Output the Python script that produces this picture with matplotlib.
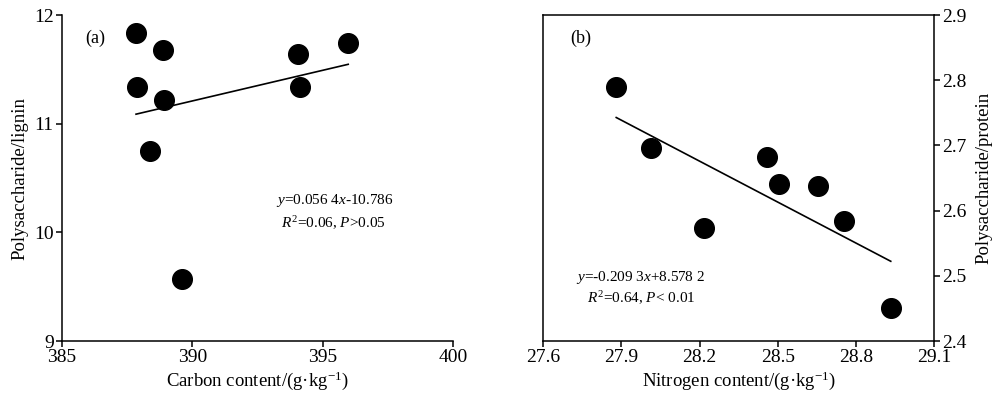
import matplotlib
matplotlib.use("Agg")
from matplotlib import pyplot as plt
import numpy as np

plt.rcParams['font.family'] = ['Liberation Serif', 'DejaVu Serif']
plt.rcParams['mathtext.fontset'] = 'custom'
plt.rcParams['mathtext.rm'] = 'Liberation Serif'
plt.rcParams['mathtext.it'] = 'Liberation Serif:italic'

# panel (a): carbon content vs polysaccharide/lignin
carbon = [387.84, 388.89, 387.88, 388.92, 388.36, 389.62, 394.04, 394.14, 395.98]
ps_lignin = [11.84, 11.68, 11.34, 11.22, 10.75, 9.57, 11.64, 11.34, 11.74]
fit_a = [0.0564, -10.786]

# panel (b): nitrogen content vs polysaccharide/protein
nitrogen = [27.88, 28.012, 28.217, 28.458, 28.504, 28.656, 28.756, 28.934]
ps_protein = [2.79, 2.696, 2.574, 2.683, 2.641, 2.638, 2.584, 2.450]
fit_b = [-0.2093, 8.5782]

fig = plt.figure(figsize=(10, 3.95), dpi=100)

tick_fs = 14
lab_fs = 13.5
ann_fs = 11

# left panel
ax1 = fig.add_axes([0.062, 0.1367, 0.391, 0.825])
ax1.scatter(carbon, ps_lignin, s=200, color='black', zorder=3)
xa = np.array([min(carbon), max(carbon)])
ax1.plot(xa, np.polyval(fit_a, xa), color='black', lw=1.2)
ax1.set_xlim(385, 400)
ax1.set_ylim(9, 12)
ax1.set_xticks([385, 390, 395, 400])
ax1.set_yticks([9, 10, 11, 12])
ax1.spines['top'].set_visible(False)
ax1.spines['right'].set_visible(False)
ax1.set_xlabel('Carbon content/(g·kg$^{-1}$)', fontsize=lab_fs, labelpad=2)
ax1.set_ylabel('Polysaccharide/lignin', fontsize=lab_fs, labelpad=4)
ax1.text(0.06, 0.93, '(a)', transform=ax1.transAxes, fontsize=13, va='center')
ax1.text(0.698, 0.432, '$y$=0.056 4$x$-10.786', transform=ax1.transAxes,
         fontsize=ann_fs, ha='center', va='center')
ax1.text(0.695, 0.362, '$R^2$=0.06, $P$>0.05', transform=ax1.transAxes,
         fontsize=ann_fs, ha='center', va='center')

# right panel
ax2 = fig.add_axes([0.5433, 0.1367, 0.3907, 0.825])
ax2.scatter(nitrogen, ps_protein, s=200, color='black', zorder=3)
xb = np.array([min(nitrogen), max(nitrogen)])
ax2.plot(xb, np.polyval(fit_b, xb), color='black', lw=1.2)
ax2.set_xlim(27.6, 29.1)
ax2.set_ylim(2.4, 2.9)
ax2.set_xticks([27.6, 27.9, 28.2, 28.5, 28.8, 29.1])
ax2.set_yticks([2.4, 2.5, 2.6, 2.7, 2.8, 2.9])
ax2.yaxis.tick_right()
ax2.yaxis.set_label_position('right')
ax2.set_xlabel('Nitrogen content/(g·kg$^{-1}$)', fontsize=lab_fs, labelpad=2)
ax2.set_ylabel('Polysaccharide/protein', fontsize=lab_fs, labelpad=6)
ax2.text(0.07, 0.93, '(b)', transform=ax2.transAxes, fontsize=13, va='center')
ax2.text(0.248, 0.196, '$y$=-0.209 3$x$+8.578 2', transform=ax2.transAxes,
         fontsize=ann_fs, ha='center', va='center')
ax2.text(0.25, 0.132, '$R^2$=0.64, $P$< 0.01', transform=ax2.transAxes,
         fontsize=ann_fs, ha='center', va='center')

for ax in (ax1, ax2):
    for sp in ax.spines.values():
        sp.set_linewidth(1.1)
    ax.tick_params(direction='out', length=4, width=1.1, labelsize=tick_fs, pad=2)

fig.savefig('out.png', dpi=100)
